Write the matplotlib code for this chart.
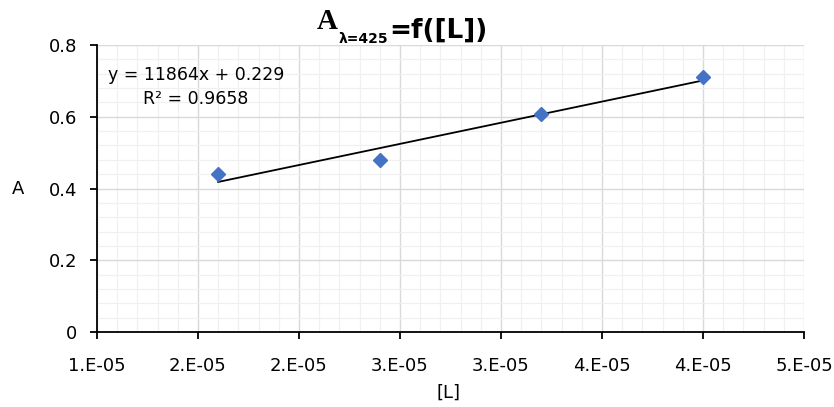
import numpy as np
import matplotlib
matplotlib.use('Agg')
import matplotlib.pyplot as plt
from matplotlib.ticker import MultipleLocator, FuncFormatter

# data
conc_L = [1.6e-5, 2.4e-5, 3.2e-5, 4.0e-5]
absorb = [0.440, 0.480, 0.607, 0.712]
eq_text = 'y = 11864x + 0.229\nR² = 0.9658'

x_ticks = [1.0e-5, 1.5e-5, 2.0e-5, 2.5e-5, 3.0e-5, 3.5e-5, 4.0e-5, 4.5e-5]
y_ticks = [0, 0.2, 0.4, 0.6, 0.8]

plt.rcParams['font.family'] = ['DejaVu Sans']

fig = plt.figure(figsize=(8.34, 4.07), dpi=100)
ax = fig.add_axes([0.1163, 0.1843, 0.8477, 0.7051])

# grid
ax.set_xlim(x_ticks[0], x_ticks[-1])
ax.set_ylim(y_ticks[0], y_ticks[-1])
ax.set_xticks(x_ticks)
ax.set_yticks(y_ticks)
ax.xaxis.set_minor_locator(MultipleLocator(0.1e-5))
ax.yaxis.set_minor_locator(MultipleLocator(0.04))
ax.grid(which='minor', color='#f0f0f0', lw=0.9, zorder=0)
ax.grid(which='major', color='#d9d9d9', lw=1.0, zorder=0)
ax.set_axisbelow(True)

def fmt_x(v, pos):
    m = v / 1e-5
    return '%d.E-05' % int(np.floor(m + 0.5 + 1e-9))

ax.xaxis.set_major_formatter(FuncFormatter(fmt_x))
ax.yaxis.set_major_formatter(FuncFormatter(lambda v, p: '0' if v == 0 else '%.1f' % v))

for s in ['top', 'right']:
    ax.spines[s].set_visible(False)
for s in ['left', 'bottom']:
    ax.spines[s].set_color('black')
    ax.spines[s].set_linewidth(1.3)
ax.tick_params(which='major', direction='out', length=5, width=1.3, color='black',
               labelsize=13)
ax.tick_params(which='minor', length=0)
ax.tick_params(axis='x', pad=13)
ax.tick_params(axis='y', pad=9)

# trend line
coef = np.polyfit(conc_L, absorb, 1)
xs = np.array([conc_L[0], conc_L[-1]])
ax.plot(xs, np.polyval(coef, xs), color='black', lw=1.3, zorder=3)

ax.plot(conc_L, absorb, linestyle='none', marker='D', markersize=7.2,
        color='#4472c4', zorder=4)

fig.text(196 / 834, 1 - 87 / 407, eq_text, ha='center', va='center',
         fontsize=12.5, linespacing=1.5)

fig.text(449 / 834, 1 - 393 / 407, '[L]', ha='center', va='center', fontsize=13)
fig.text(18.5 / 834, 1 - 189 / 407, 'A', ha='center', va='center', fontsize=13)

# title: serif A, subscript, then the rest
t1 = fig.text(317 / 834, 1 - 29 / 407, 'A', family='Liberation Serif',
              fontweight='bold', fontsize=21, ha='left', va='baseline')
sub = ax.annotate('λ=425', xy=(1, 0), xycoords=t1, xytext=(0.5, -6), textcoords='offset points',
                  fontweight='bold', fontsize=10, ha='left', va='baseline',
                  annotation_clip=False)
ax.annotate('=f([L])', xy=(1, 0), xycoords=sub, xytext=(1, 6), textcoords='offset points',
            fontweight='bold', fontsize=19, ha='left', va='baseline', annotation_clip=False)

fig.savefig('out.png', dpi=100)
